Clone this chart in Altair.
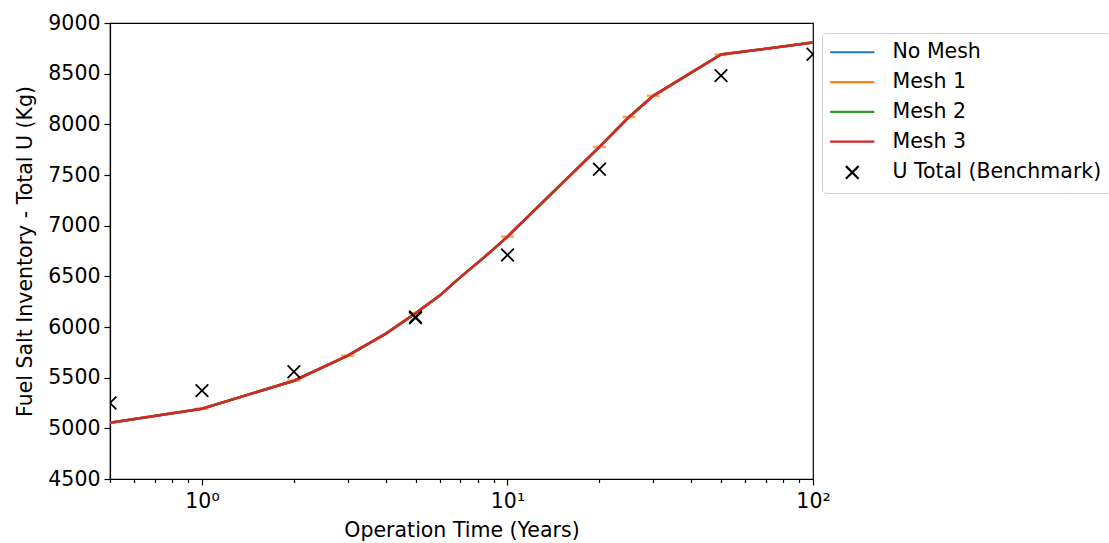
import altair as alt
import pandas as pd

# ---- data ----
times = [0.5, 1, 2, 3, 4, 5, 6, 7, 8, 9, 10, 20, 25, 30, 50, 100]
no_mesh = [5056, 5194, 5470, 5717, 5935, 6136, 6310, 6490, 6635, 6768, 6892, 7777, 8073, 8281, 8689, 8807]
mesh_1 = [5056, 5194, 5470, 5717, 5935, 6136, 6310, 6490, 6635, 6768, 6892, 7777, 8073, 8281, 8689, 8807]
mesh_2 = [5056, 5194, 5470, 5717, 5935, 6136, 6310, 6490, 6635, 6768, 6892, 7777, 8073, 8281, 8689, 8807]
mesh_3 = [5056, 5194, 5470, 5717, 5935, 6136, 6310, 6490, 6635, 6768, 6892, 7777, 8073, 8281, 8689, 8807]

mesh1_step_t = [0.5, 1, 2, 3, 5, 10, 20, 25, 30, 50, 100]
mesh1_step_v = [5056, 5194, 5470, 5717, 6136, 6892, 7777, 8073, 8281, 8689, 8807]

bench_t = [0.5, 1, 2, 5, 5, 10, 20, 50, 100]
bench_v = [5250, 5372, 5559, 6090, 6100, 6711, 7557, 8481, 8692]

series_names = ["No Mesh", "Mesh 1", "Mesh 2", "Mesh 3", "U Total (Benchmark)"]
series_colors = ["#1f77b4", "#ff7f0e", "#2ca02c", "#d62728", "#000000"]

y_ticks = [4500, 5000, 5500, 6000, 6500, 7000, 7500, 8000, 8500, 9000]
x_major = [1, 10, 100]
x_minor = [0.5, 0.6, 0.7, 0.8, 0.9, 2, 3, 4, 5, 6, 7, 8, 9, 20, 30, 40, 50, 60, 70, 80, 90]

FONT = "DejaVu Sans"
FS = 20.5

# ---- tables ----
line_frames = []
for name, vals in zip(series_names[:4], [no_mesh, mesh_1, mesh_2, mesh_3]):
    line_frames.append(pd.DataFrame({"t": times, "v": vals, "series": name}))
bench_df = pd.DataFrame({"t": bench_t, "v": bench_v, "series": series_names[4]})
steps_df = pd.DataFrame({"t": mesh1_step_t, "v": mesh1_step_v})
all_df = pd.concat(line_frames + [bench_df], ignore_index=True)

x_scale = alt.Scale(type="log", domain=[0.5, 100], nice=False)
y_scale = alt.Scale(domain=[4500, 9000], nice=False, zero=False)

x_axis_major = alt.Axis(
    values=x_major, title="Operation Time (Years)", grid=False, tickSize=6, orient="bottom",
    labelExpr="datum.value == 1 ? '10⁰' : datum.value == 10 ? '10¹' : '10²'",
    labelPadding=6, titlePadding=9, labelFlush=False,
)
x_axis_minor = alt.Axis(values=x_minor, labels=False, title=None, grid=False, orient="bottom",
                        tickSize=3.5, domain=False)
y_axis = alt.Axis(values=y_ticks, format="d", title="Fuel Salt Inventory - Total U (Kg)",
                  grid=False, tickSize=6, labelPadding=4, titlePadding=12)

Y = alt.Y("v:Q", scale=y_scale, axis=y_axis)

layers = []
for i, df in enumerate(line_frames):
    if i == 3:
        # Mesh 1 output-step dashes, under Mesh 3
        layers.append(
            alt.Chart(steps_df).mark_tick(orient="horizontal", size=13, thickness=2.6,
                                          color=series_colors[1], clip=True).encode(
                x=alt.X("t:Q", scale=x_scale, axis=None), y=Y,
            )
        )
    layers.append(
        alt.Chart(df).mark_line(strokeWidth=2.5, color=series_colors[i], clip=True).encode(
            x=alt.X("t:Q", scale=x_scale, axis=x_axis_major if i == 0 else None), y=Y,
        )
    )

# minor ticks axis
layers.append(
    alt.Chart(steps_df).mark_point(opacity=0).encode(
        x=alt.X("t:Q", scale=x_scale, axis=x_axis_minor), y=Y,
    )
)

# markers + legend
layers.append(
    alt.Chart(all_df).mark_point(filled=False, strokeWidth=1.8, opacity=1, clip=True).encode(
        x=alt.X("t:Q", scale=x_scale, axis=None),
        y=Y,
        color=alt.Color("series:N", scale=alt.Scale(domain=series_names, range=series_colors),
                        legend=alt.Legend(title=None, orient="none", legendX=712, legendY=10,
                                          symbolSize=160, symbolStrokeWidth=2.2, symbolOpacity=1,
                                          labelFont=FONT, labelFontSize=FS, labelColor="black",
                                          labelLimit=400,
                                          labelOffset=30, symbolOffset=11, rowPadding=8.8,
                                          padding=9, strokeColor="#d0d0d0", fillColor="white",
                                          cornerRadius=4)),
        shape=alt.Shape("series:N", scale=alt.Scale(
            domain=series_names,
            range=["M-3.5,0L3.5,0"] * 4 + ["M-1,-1L1,1M-1,1L1,-1"])),
        size=alt.condition(alt.datum.series == series_names[4], alt.value(160), alt.value(0)),
    )
)

chart = alt.layer(*layers).resolve_axis(x="independent").properties(
    width=703, height=456,
    background="white",
    autosize=alt.AutoSizeParams(type="none"),
    padding={"left": 110, "top": 23, "right": 296, "bottom": 64},
).configure_view(stroke="black", strokeWidth=1.2).configure_axis(
    labelFont=FONT, titleFont=FONT, labelFontSize=FS, titleFontSize=FS,
    labelColor="black", titleColor="black", titleFontWeight="normal",
    domainColor="black", tickColor="black", domainWidth=1.2, tickWidth=1.2,
)

chart.save("out.html", embed_options={"renderer": "svg", "actions": False})
